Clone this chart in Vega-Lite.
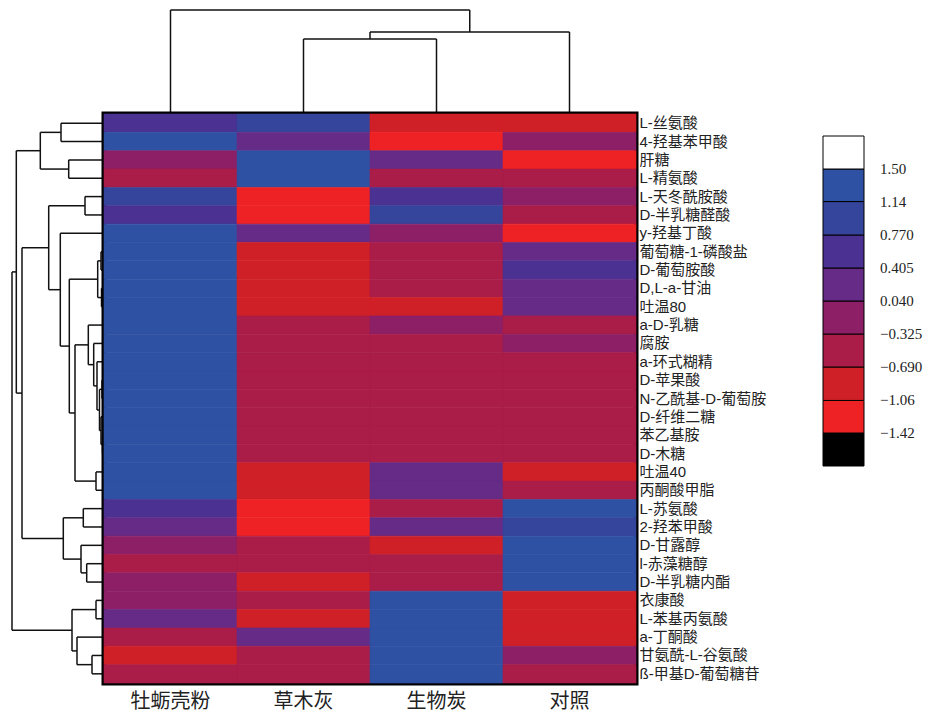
{
  "$schema": "https://vega.github.io/schema/vega-lite/v6.json",
  "padding": {"left": 4, "top": 9, "right": 0, "bottom": 0},
  "background": "white",
  "config": {"view": {"stroke": null}, "font": "Liberation Sans"},
  "datasets": {
    "top": [
      {"c1": 1.5, "c2": 2.5, "h1": 75, "h2": 75},
      {"c1": 1.5, "c2": 1.5, "h1": 0, "h2": 75},
      {"c1": 2.5, "c2": 2.5, "h1": 0, "h2": 75},
      {"c1": 2, "c2": 3.5, "h1": 82, "h2": 82},
      {"c1": 2, "c2": 2, "h1": 75, "h2": 82},
      {"c1": 3.5, "c2": 3.5, "h1": 0, "h2": 82},
      {"c1": 0.5, "c2": 2.75, "h1": 104, "h2": 104},
      {"c1": 0.5, "c2": 0.5, "h1": 0, "h2": 104},
      {"c1": 2.75, "c2": 2.75, "h1": 82, "h2": 104}
    ],
    "left": [
      {"h1": 43, "h2": 43, "r1": 0.5, "r2": 1.5}, {"h1": 0, "h2": 43, "r1": 0.5, "r2": 0.5}, {"h1": 0, "h2": 43, "r1": 1.5, "r2": 1.5},
      {"h1": 35.3, "h2": 35.3, "r1": 2.5, "r2": 3.5}, {"h1": 0, "h2": 35.3, "r1": 2.5, "r2": 2.5}, {"h1": 0, "h2": 35.3, "r1": 3.5, "r2": 3.5},
      {"h1": 63.7, "h2": 63.7, "r1": 1, "r2": 3}, {"h1": 43, "h2": 63.7, "r1": 1, "r2": 1}, {"h1": 35.3, "h2": 63.7, "r1": 3, "r2": 3},
      {"h1": 19, "h2": 19, "r1": 4.5, "r2": 5.5}, {"h1": 0, "h2": 19, "r1": 4.5, "r2": 4.5}, {"h1": 0, "h2": 19, "r1": 5.5, "r2": 5.5},
      {"h1": 3, "h2": 3, "r1": 7.5, "r2": 8.5}, {"h1": 0, "h2": 3, "r1": 7.5, "r2": 7.5}, {"h1": 0, "h2": 3, "r1": 8.5, "r2": 8.5},
      {"h1": 2.5, "h2": 2.5, "r1": 9.5, "r2": 10.5}, {"h1": 0, "h2": 2.5, "r1": 9.5, "r2": 9.5}, {"h1": 0, "h2": 2.5, "r1": 10.5, "r2": 10.5},
      {"h1": 6.3, "h2": 6.3, "r1": 8, "r2": 10}, {"h1": 3, "h2": 6.3, "r1": 8, "r2": 8}, {"h1": 2.5, "h2": 6.3, "r1": 10, "r2": 10},
      {"h1": 1.5, "h2": 1.5, "r1": 17.5, "r2": 18.5}, {"h1": 0, "h2": 1.5, "r1": 17.5, "r2": 17.5}, {"h1": 0, "h2": 1.5, "r1": 18.5, "r2": 18.5},
      {"h1": 3, "h2": 3, "r1": 16.5, "r2": 18}, {"h1": 0, "h2": 3, "r1": 16.5, "r2": 16.5}, {"h1": 1.5, "h2": 3, "r1": 18, "r2": 18},
      {"h1": 2, "h2": 2, "r1": 14.5, "r2": 15.5}, {"h1": 0, "h2": 2, "r1": 14.5, "r2": 14.5}, {"h1": 0, "h2": 2, "r1": 15.5, "r2": 15.5},
      {"h1": 4.5, "h2": 4.5, "r1": 15, "r2": 17.25}, {"h1": 2, "h2": 4.5, "r1": 15, "r2": 15}, {"h1": 3, "h2": 4.5, "r1": 17.25, "r2": 17.25},
      {"h1": 7, "h2": 7, "r1": 13.5, "r2": 16.125}, {"h1": 0, "h2": 7, "r1": 13.5, "r2": 13.5}, {"h1": 4.5, "h2": 7, "r1": 16.125, "r2": 16.125},
      {"h1": 10.3, "h2": 10.3, "r1": 12.5, "r2": 14.8125}, {"h1": 0, "h2": 10.3, "r1": 12.5, "r2": 12.5}, {"h1": 7, "h2": 10.3, "r1": 14.8125, "r2": 14.8125},
      {"h1": 15.7, "h2": 15.7, "r1": 11.5, "r2": 13.656}, {"h1": 0, "h2": 15.7, "r1": 11.5, "r2": 11.5}, {"h1": 10.3, "h2": 15.7, "r1": 13.656, "r2": 13.656},
      {"h1": 8, "h2": 8, "r1": 19.5, "r2": 20.5}, {"h1": 0, "h2": 8, "r1": 19.5, "r2": 19.5}, {"h1": 0, "h2": 8, "r1": 20.5, "r2": 20.5},
      {"h1": 29, "h2": 29, "r1": 12.578, "r2": 20}, {"h1": 15.7, "h2": 29, "r1": 12.578, "r2": 12.578}, {"h1": 8, "h2": 29, "r1": 20, "r2": 20},
      {"h1": 34.7, "h2": 34.7, "r1": 9, "r2": 16.289}, {"h1": 6.3, "h2": 34.7, "r1": 9, "r2": 9}, {"h1": 29, "h2": 34.7, "r1": 16.289, "r2": 16.289},
      {"h1": 43.7, "h2": 43.7, "r1": 6.5, "r2": 12.645}, {"h1": 0, "h2": 43.7, "r1": 6.5, "r2": 6.5}, {"h1": 34.7, "h2": 43.7, "r1": 12.645, "r2": 12.645},
      {"h1": 55.3, "h2": 55.3, "r1": 5, "r2": 9.572}, {"h1": 19, "h2": 55.3, "r1": 5, "r2": 5}, {"h1": 43.7, "h2": 55.3, "r1": 9.572, "r2": 9.572},
      {"h1": 20.7, "h2": 20.7, "r1": 21.5, "r2": 22.5}, {"h1": 0, "h2": 20.7, "r1": 21.5, "r2": 21.5}, {"h1": 0, "h2": 20.7, "r1": 22.5, "r2": 22.5},
      {"h1": 17.3, "h2": 17.3, "r1": 24.5, "r2": 25.5}, {"h1": 0, "h2": 17.3, "r1": 24.5, "r2": 24.5}, {"h1": 0, "h2": 17.3, "r1": 25.5, "r2": 25.5},
      {"h1": 23, "h2": 23, "r1": 23.5, "r2": 25}, {"h1": 0, "h2": 23, "r1": 23.5, "r2": 23.5}, {"h1": 17.3, "h2": 23, "r1": 25, "r2": 25},
      {"h1": 40.7, "h2": 40.7, "r1": 22, "r2": 24.25}, {"h1": 20.7, "h2": 40.7, "r1": 22, "r2": 22}, {"h1": 23, "h2": 40.7, "r1": 24.25, "r2": 24.25},
      {"h1": 82, "h2": 82, "r1": 7.286, "r2": 23.125}, {"h1": 55.3, "h2": 82, "r1": 7.286, "r2": 7.286}, {"h1": 40.7, "h2": 82, "r1": 23.125, "r2": 23.125},
      {"h1": 87.7, "h2": 87.7, "r1": 2, "r2": 15.206}, {"h1": 63.7, "h2": 87.7, "r1": 2, "r2": 2}, {"h1": 82, "h2": 87.7, "r1": 15.206, "r2": 15.206},
      {"h1": 8, "h2": 8, "r1": 26.5, "r2": 27.5}, {"h1": 0, "h2": 8, "r1": 26.5, "r2": 26.5}, {"h1": 0, "h2": 8, "r1": 27.5, "r2": 27.5},
      {"h1": 12, "h2": 12, "r1": 29.5, "r2": 30.5}, {"h1": 0, "h2": 12, "r1": 29.5, "r2": 29.5}, {"h1": 0, "h2": 12, "r1": 30.5, "r2": 30.5},
      {"h1": 27, "h2": 27, "r1": 28.5, "r2": 30}, {"h1": 0, "h2": 27, "r1": 28.5, "r2": 28.5}, {"h1": 12, "h2": 27, "r1": 30, "r2": 30},
      {"h1": 32, "h2": 32, "r1": 27, "r2": 29.25}, {"h1": 8, "h2": 32, "r1": 27, "r2": 27}, {"h1": 27, "h2": 32, "r1": 29.25, "r2": 29.25},
      {"h1": 92, "h2": 92, "r1": 8.603, "r2": 28.125}, {"h1": 87.7, "h2": 92, "r1": 8.603, "r2": 8.603}, {"h1": 32, "h2": 92, "r1": 28.125, "r2": 28.125}
    ],
    "heat": [
      {"m": "L-丝氨酸", "s": "牡蛎壳粉", "v": 0.6}, {"m": "L-丝氨酸", "s": "草木灰", "v": 0.95}, {"m": "L-丝氨酸", "s": "生物炭", "v": -0.88}, {"m": "L-丝氨酸", "s": "对照", "v": -0.88},
      {"m": "4-羟基苯甲酸", "s": "牡蛎壳粉", "v": 1.3}, {"m": "4-羟基苯甲酸", "s": "草木灰", "v": 0.22}, {"m": "4-羟基苯甲酸", "s": "生物炭", "v": -1.25}, {"m": "4-羟基苯甲酸", "s": "对照", "v": -0.14},
      {"m": "肝糖", "s": "牡蛎壳粉", "v": -0.14}, {"m": "肝糖", "s": "草木灰", "v": 1.3}, {"m": "肝糖", "s": "生物炭", "v": 0.22}, {"m": "肝糖", "s": "对照", "v": -1.25},
      {"m": "L-精氨酸", "s": "牡蛎壳粉", "v": -0.5}, {"m": "L-精氨酸", "s": "草木灰", "v": 1.3}, {"m": "L-精氨酸", "s": "生物炭", "v": -0.5}, {"m": "L-精氨酸", "s": "对照", "v": -0.5},
      {"m": "L-天冬酰胺酸", "s": "牡蛎壳粉", "v": 0.95}, {"m": "L-天冬酰胺酸", "s": "草木灰", "v": -1.25}, {"m": "L-天冬酰胺酸", "s": "生物炭", "v": 0.6}, {"m": "L-天冬酰胺酸", "s": "对照", "v": -0.14},
      {"m": "D-半乳糖醛酸", "s": "牡蛎壳粉", "v": 0.6}, {"m": "D-半乳糖醛酸", "s": "草木灰", "v": -1.25}, {"m": "D-半乳糖醛酸", "s": "生物炭", "v": 0.95}, {"m": "D-半乳糖醛酸", "s": "对照", "v": -0.5},
      {"m": "y-羟基丁酸", "s": "牡蛎壳粉", "v": 1.3}, {"m": "y-羟基丁酸", "s": "草木灰", "v": 0.22}, {"m": "y-羟基丁酸", "s": "生物炭", "v": -0.14}, {"m": "y-羟基丁酸", "s": "对照", "v": -1.25},
      {"m": "葡萄糖-1-磷酸盐", "s": "牡蛎壳粉", "v": 1.3}, {"m": "葡萄糖-1-磷酸盐", "s": "草木灰", "v": -0.88}, {"m": "葡萄糖-1-磷酸盐", "s": "生物炭", "v": -0.5}, {"m": "葡萄糖-1-磷酸盐", "s": "对照", "v": 0.22},
      {"m": "D-葡萄胺酸", "s": "牡蛎壳粉", "v": 1.3}, {"m": "D-葡萄胺酸", "s": "草木灰", "v": -0.88}, {"m": "D-葡萄胺酸", "s": "生物炭", "v": -0.5}, {"m": "D-葡萄胺酸", "s": "对照", "v": 0.6},
      {"m": "D,L-a-甘油", "s": "牡蛎壳粉", "v": 1.3}, {"m": "D,L-a-甘油", "s": "草木灰", "v": -0.88}, {"m": "D,L-a-甘油", "s": "生物炭", "v": -0.5}, {"m": "D,L-a-甘油", "s": "对照", "v": 0.22},
      {"m": "吐温80", "s": "牡蛎壳粉", "v": 1.3}, {"m": "吐温80", "s": "草木灰", "v": -0.88}, {"m": "吐温80", "s": "生物炭", "v": -0.88}, {"m": "吐温80", "s": "对照", "v": 0.22},
      {"m": "a-D-乳糖", "s": "牡蛎壳粉", "v": 1.3}, {"m": "a-D-乳糖", "s": "草木灰", "v": -0.5}, {"m": "a-D-乳糖", "s": "生物炭", "v": -0.14}, {"m": "a-D-乳糖", "s": "对照", "v": -0.5},
      {"m": "腐胺", "s": "牡蛎壳粉", "v": 1.3}, {"m": "腐胺", "s": "草木灰", "v": -0.5}, {"m": "腐胺", "s": "生物炭", "v": -0.5}, {"m": "腐胺", "s": "对照", "v": -0.14},
      {"m": "a-环式糊精", "s": "牡蛎壳粉", "v": 1.3}, {"m": "a-环式糊精", "s": "草木灰", "v": -0.5}, {"m": "a-环式糊精", "s": "生物炭", "v": -0.5}, {"m": "a-环式糊精", "s": "对照", "v": -0.5},
      {"m": "D-苹果酸", "s": "牡蛎壳粉", "v": 1.3}, {"m": "D-苹果酸", "s": "草木灰", "v": -0.5}, {"m": "D-苹果酸", "s": "生物炭", "v": -0.5}, {"m": "D-苹果酸", "s": "对照", "v": -0.5},
      {"m": "N-乙酰基-D-葡萄胺", "s": "牡蛎壳粉", "v": 1.3}, {"m": "N-乙酰基-D-葡萄胺", "s": "草木灰", "v": -0.5}, {"m": "N-乙酰基-D-葡萄胺", "s": "生物炭", "v": -0.5}, {"m": "N-乙酰基-D-葡萄胺", "s": "对照", "v": -0.5},
      {"m": "D-纤维二糖", "s": "牡蛎壳粉", "v": 1.3}, {"m": "D-纤维二糖", "s": "草木灰", "v": -0.5}, {"m": "D-纤维二糖", "s": "生物炭", "v": -0.5}, {"m": "D-纤维二糖", "s": "对照", "v": -0.5},
      {"m": "苯乙基胺", "s": "牡蛎壳粉", "v": 1.3}, {"m": "苯乙基胺", "s": "草木灰", "v": -0.5}, {"m": "苯乙基胺", "s": "生物炭", "v": -0.5}, {"m": "苯乙基胺", "s": "对照", "v": -0.5},
      {"m": "D-木糖", "s": "牡蛎壳粉", "v": 1.3}, {"m": "D-木糖", "s": "草木灰", "v": -0.5}, {"m": "D-木糖", "s": "生物炭", "v": -0.5}, {"m": "D-木糖", "s": "对照", "v": -0.5},
      {"m": "吐温40", "s": "牡蛎壳粉", "v": 1.3}, {"m": "吐温40", "s": "草木灰", "v": -0.88}, {"m": "吐温40", "s": "生物炭", "v": 0.22}, {"m": "吐温40", "s": "对照", "v": -0.88},
      {"m": "丙酮酸甲脂", "s": "牡蛎壳粉", "v": 1.3}, {"m": "丙酮酸甲脂", "s": "草木灰", "v": -0.88}, {"m": "丙酮酸甲脂", "s": "生物炭", "v": 0.22}, {"m": "丙酮酸甲脂", "s": "对照", "v": -0.5},
      {"m": "L-苏氨酸", "s": "牡蛎壳粉", "v": 0.6}, {"m": "L-苏氨酸", "s": "草木灰", "v": -1.25}, {"m": "L-苏氨酸", "s": "生物炭", "v": -0.5}, {"m": "L-苏氨酸", "s": "对照", "v": 1.3},
      {"m": "2-羟苯甲酸", "s": "牡蛎壳粉", "v": 0.22}, {"m": "2-羟苯甲酸", "s": "草木灰", "v": -1.25}, {"m": "2-羟苯甲酸", "s": "生物炭", "v": 0.22}, {"m": "2-羟苯甲酸", "s": "对照", "v": 0.95},
      {"m": "D-甘露醇", "s": "牡蛎壳粉", "v": -0.14}, {"m": "D-甘露醇", "s": "草木灰", "v": -0.5}, {"m": "D-甘露醇", "s": "生物炭", "v": -0.88}, {"m": "D-甘露醇", "s": "对照", "v": 1.3},
      {"m": "l-赤藻糖醇", "s": "牡蛎壳粉", "v": -0.5}, {"m": "l-赤藻糖醇", "s": "草木灰", "v": -0.5}, {"m": "l-赤藻糖醇", "s": "生物炭", "v": -0.5}, {"m": "l-赤藻糖醇", "s": "对照", "v": 1.3},
      {"m": "D-半乳糖内酯", "s": "牡蛎壳粉", "v": -0.14}, {"m": "D-半乳糖内酯", "s": "草木灰", "v": -0.88}, {"m": "D-半乳糖内酯", "s": "生物炭", "v": -0.5}, {"m": "D-半乳糖内酯", "s": "对照", "v": 1.3},
      {"m": "衣康酸", "s": "牡蛎壳粉", "v": -0.14}, {"m": "衣康酸", "s": "草木灰", "v": -0.5}, {"m": "衣康酸", "s": "生物炭", "v": 1.3}, {"m": "衣康酸", "s": "对照", "v": -0.88},
      {"m": "L-苯基丙氨酸", "s": "牡蛎壳粉", "v": 0.22}, {"m": "L-苯基丙氨酸", "s": "草木灰", "v": -0.88}, {"m": "L-苯基丙氨酸", "s": "生物炭", "v": 1.3}, {"m": "L-苯基丙氨酸", "s": "对照", "v": -0.88},
      {"m": "a-丁酮酸", "s": "牡蛎壳粉", "v": -0.5}, {"m": "a-丁酮酸", "s": "草木灰", "v": 0.22}, {"m": "a-丁酮酸", "s": "生物炭", "v": 1.3}, {"m": "a-丁酮酸", "s": "对照", "v": -0.88},
      {"m": "甘氨酰-L-谷氨酸", "s": "牡蛎壳粉", "v": -0.88}, {"m": "甘氨酰-L-谷氨酸", "s": "草木灰", "v": -0.5}, {"m": "甘氨酰-L-谷氨酸", "s": "生物炭", "v": 1.3}, {"m": "甘氨酰-L-谷氨酸", "s": "对照", "v": -0.14},
      {"m": "ß-甲基D-葡萄糖苷", "s": "牡蛎壳粉", "v": -0.5}, {"m": "ß-甲基D-葡萄糖苷", "s": "草木灰", "v": -0.5}, {"m": "ß-甲基D-葡萄糖苷", "s": "生物炭", "v": 1.3}, {"m": "ß-甲基D-葡萄糖苷", "s": "对照", "v": -0.5}
    ]
  },
  "columns": 2,
  "spacing": 0,
  "align": "each",
  "bounds": "flush",
  "concat": [
    {
      "width": 100, "height": 104,
      "data": {"values": []},
      "mark": "rect"
    },
    {
      "width": 532, "height": 104,
      "data": {"name": "top"},
      "mark": {"type": "rule", "stroke": "#111", "strokeWidth": 1.5},
      "encoding": {
        "x": {"field": "c1", "type": "quantitative", "scale": {"domain": [0, 4], "nice": false}, "axis": null},
        "x2": {"field": "c2"},
        "y": {"field": "h1", "type": "quantitative", "scale": {"domain": [0, 104], "nice": false}, "axis": null},
        "y2": {"field": "h2"}
      }
    },
    {
      "width": 100, "height": 569,
      "data": {"name": "left"},
      "mark": {"type": "rule", "stroke": "#111", "strokeWidth": 1.5},
      "encoding": {
        "x": {"field": "h1", "type": "quantitative", "scale": {"domain": [0, 100], "nice": false, "reverse": true}, "axis": null},
        "x2": {"field": "h2"},
        "y": {"field": "r1", "type": "quantitative", "scale": {"domain": [0, 31], "nice": false, "reverse": true}, "axis": null},
        "y2": {"field": "r2"}
      }
    },
    {
      "width": 532, "height": 569,
      "data": {"name": "heat"},
      "view": {"stroke": "#000", "strokeWidth": 5},
      "mark": {"type": "rect", "strokeWidth": 0.6},
      "encoding": {
        "x": {
          "field": "s", "type": "nominal", "sort": null,
          "scale": {"paddingInner": 0, "paddingOuter": 0},
          "axis": {"orient": "bottom", "title": null, "labelAngle": 0, "domain": false, "ticks": false, "labelFontSize": 20, "labelFont": "Noto Sans CJK SC", "labelColor": "#222", "labelPadding": 8}
        },
        "y": {
          "field": "m", "type": "nominal", "sort": null,
          "scale": {"paddingInner": 0, "paddingOuter": 0},
          "axis": {"orient": "right", "title": null, "domain": false, "ticks": false, "labelFontSize": 15, "labelFont": "Liberation Sans, Noto Sans CJK SC", "labelPadding": 3, "labelColor": "#222", "labelLimit": 0}
        },
        "color": {
          "field": "v", "type": "quantitative",
          "scale": {
            "type": "threshold",
            "domain": [-1.42, -1.06, -0.69, -0.325, 0.04, 0.405, 0.77, 1.14, 1.5],
            "range": ["#000000", "#EE2224", "#D02027", "#AA1D48", "#8C1F66", "#652B87", "#4B3192", "#35459C", "#2F51A3", "#FFFFFF"]
          },
          "legend": {
            "title": null, "type": "gradient", "direction": "vertical", "orient": "none",
            "legendX": 819, "legendY": 126,
            "gradientLength": 330, "gradientThickness": 41,
            "gradientStrokeColor": "#000", "gradientStrokeWidth": 1,
            "labelFont": "Liberation Serif", "labelFontSize": 15, "labelOffset": 16, "labelColor": "#222",
            "labelExpr": "!isFinite(datum.value) ? '' : (datum.value == 0.04 ? '0.040' : format(datum.value, '.3r'))"
          }
        },
        "stroke": {
          "field": "v", "type": "quantitative",
          "scale": {
            "type": "threshold",
            "domain": [-1.42, -1.06, -0.69, -0.325, 0.04, 0.405, 0.77, 1.14, 1.5],
            "range": ["#000000", "#EE2224", "#D02027", "#AA1D48", "#8C1F66", "#652B87", "#4B3192", "#35459C", "#2F51A3", "#FFFFFF"]
          },
          "legend": null
        }
      }
    }
  ]
}
